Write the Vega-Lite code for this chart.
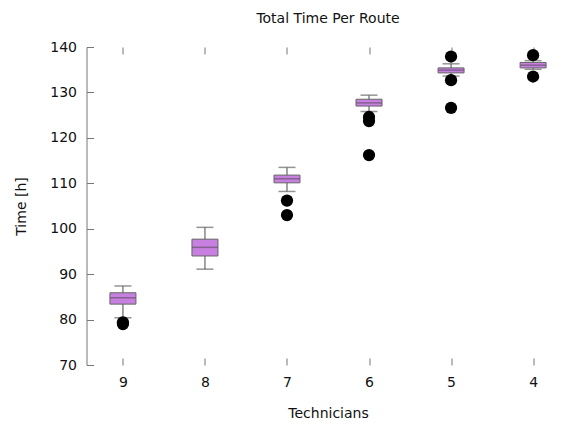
{
  "$schema": "https://vega.github.io/schema/vega-lite/v6.json",
  "width": 483,
  "height": 318,
  "autosize": {"type": "none"},
  "padding": {"left": 86.5, "top": 47, "right": 0, "bottom": 60},
  "background": "white",
  "title": {"text": "Total Time Per Route", "fontSize": 14, "font": "DejaVu Sans", "fontWeight": "normal", "color": "#111111", "offset": 14},
  "config": {
    "view": {"stroke": null},
    "font": "DejaVu Sans",
    "axis": {
      "labelFont": "DejaVu Sans", "labelFontSize": 14, "labelColor": "#111111",
      "titleFont": "DejaVu Sans", "titleFontSize": 14, "titleFontWeight": "normal", "titleColor": "#111111",
      "domainColor": "#777777", "tickColor": "#777777", "grid": false
    }
  },
  "datasets": {
    "boxes": [
      {"tech": 9, "lower": 80.4, "q1": 83.4, "median": 84.8, "q3": 85.9, "upper": 87.4},
      {"tech": 8, "lower": 91.1, "q1": 94.0, "median": 95.9, "q3": 97.7, "upper": 100.3},
      {"tech": 7, "lower": 108.2, "q1": 110.1, "median": 111.0, "q3": 111.8, "upper": 113.5},
      {"tech": 6, "lower": 125.8, "q1": 127.0, "median": 127.7, "q3": 128.5, "upper": 129.4},
      {"tech": 5, "lower": 133.6, "q1": 134.3, "median": 134.9, "q3": 135.4, "upper": 136.3},
      {"tech": 4, "lower": 135.1, "q1": 135.4, "median": 136.0, "q3": 136.6, "upper": 137.0}
    ],
    "outliers": [
      {"tech": 9, "time": 79.0},
      {"tech": 9, "time": 79.4},
      {"tech": 7, "time": 106.2},
      {"tech": 7, "time": 103.0},
      {"tech": 6, "time": 124.6},
      {"tech": 6, "time": 123.7},
      {"tech": 6, "time": 116.2},
      {"tech": 5, "time": 137.9},
      {"tech": 5, "time": 132.7},
      {"tech": 5, "time": 126.6},
      {"tech": 4, "time": 138.2},
      {"tech": 4, "time": 133.5}
    ]
  },
  "data": {"name": "boxes"},
  "layer": [
    {
      "mark": {"type": "rule", "color": "#666666", "strokeWidth": 1.2},
      "encoding": {
        "x": {"field": "tech", "type": "ordinal", "sort": [9, 8, 7, 6, 5, 4],
              "scale": {"type": "point", "padding": 0.444},
              "axis": {"orient": "bottom", "offset": -7, "tickSize": 7, "domain": false, "labelPadding": 10, "labelAngle": 0, "title": "Technicians", "titlePadding": 17}},
        "y": {"field": "lower", "type": "quantitative",
              "scale": {"domain": [70, 140], "nice": false, "zero": false},
              "axis": {"orient": "left", "values": [70, 80, 90, 100, 110, 120, 130, 140], "domain": true, "ticks": false, "labelPadding": 10, "title": "Time [h]", "titlePadding": 21}},
        "y2": {"field": "upper"}
      }
    },
    {
      "mark": {"type": "bar", "size": 26, "fill": "#c77fe0", "stroke": "#666666", "strokeWidth": 1},
      "encoding": {
        "x": {"field": "tech", "type": "ordinal", "sort": [9, 8, 7, 6, 5, 4],
              "axis": {"orient": "top", "offset": -7, "tickSize": 7, "domain": false, "labels": false, "title": null}},
        "y": {"field": "q1", "type": "quantitative",
              "axis": {"orient": "left", "offset": -7, "tickSize": 7, "values": [70, 80, 90, 100, 110, 120, 130, 140], "domain": false, "labels": false, "title": null}},
        "y2": {"field": "q3"}
      }
    },
    {
      "mark": {"type": "tick", "size": 26, "thickness": 1.5, "color": "#6a5470"},
      "encoding": {
        "x": {"field": "tech", "type": "ordinal", "sort": [9, 8, 7, 6, 5, 4], "axis": null},
        "y": {"field": "median", "type": "quantitative",
              "axis": {"orient": "right", "offset": -7, "tickSize": 7, "values": [70, 80, 90, 100, 110, 120, 130, 140], "domain": false, "labels": false, "title": null}}
      }
    },
    {
      "mark": {"type": "tick", "size": 17, "thickness": 1.5, "color": "#666666"},
      "encoding": {
        "x": {"field": "tech", "type": "ordinal", "sort": [9, 8, 7, 6, 5, 4], "axis": null},
        "y": {"field": "lower", "type": "quantitative", "axis": null}
      }
    },
    {
      "mark": {"type": "tick", "size": 17, "thickness": 1.5, "color": "#666666"},
      "encoding": {
        "x": {"field": "tech", "type": "ordinal", "sort": [9, 8, 7, 6, 5, 4], "axis": null},
        "y": {"field": "upper", "type": "quantitative", "axis": null}
      }
    },
    {
      "data": {"name": "outliers"},
      "mark": {"type": "point", "shape": "circle", "filled": true, "color": "#000000", "opacity": 1, "size": 150},
      "encoding": {
        "x": {"field": "tech", "type": "ordinal", "sort": [9, 8, 7, 6, 5, 4], "axis": null},
        "y": {"field": "time", "type": "quantitative", "axis": null}
      }
    }
  ],
  "resolve": {"axis": {"x": "independent", "y": "independent"}}
}
